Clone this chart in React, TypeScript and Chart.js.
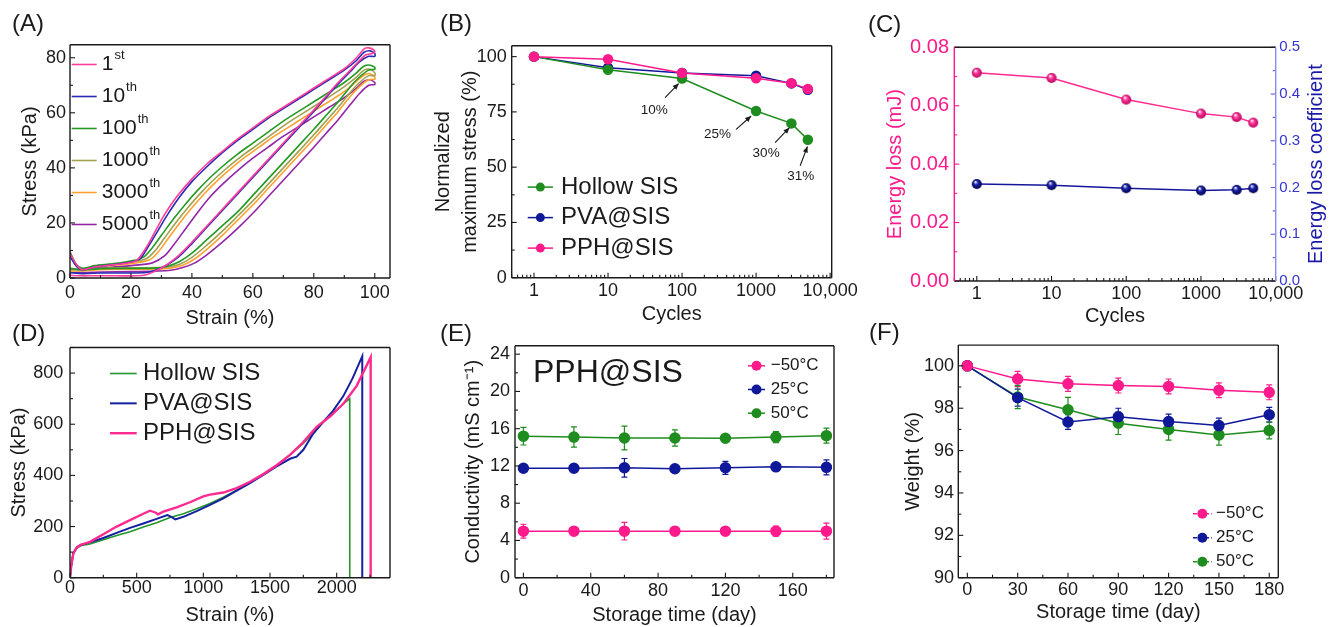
import React, { useEffect, useRef } from 'react';
import { Chart, registerables } from 'chart.js';
Chart.register(...registerables);

const FONT = '"Liberation Sans", Arial, Helvetica, sans-serif';
const INK = '#1a1a1a';

// ---------------- DATA ----------------
// (A) cyclic loading loops: [strain %, stress kPa]
const cycleNumbers = ['1', '10', '100', '1000', '3000', '5000'];
const cycleSuffixes = ['st', 'th', 'th', 'th', 'th', 'th'];
const loop1st: [number, number][] = [[0,9],[2,5],[4,3],[8,4],[14,4.8],[20,5.6],[22,6.5],[25,11],[28,17],[31,23],[35,29.5],[40,36],[45,41.5],[50,46],[55,50.5],[60,54.5],[65,58.5],[70,62],[75,65.5],[80,69],[85,72.5],[90,76],[94,80],[96.5,83.2],[98,83.6],[99.5,83],[100,82],[99,81.5],[97,81],[95,79],[92,75.5],[88,71],[84,66],[80,61],[75,55],[70,49],[65,43],[60,37],[55,31],[50,25],[45,19],[40,13],[36,8.5],[32,5],[28,2.5],[25,1.2],[22,0.8],[15,0.8],[8,0.8],[3,0.8],[0,1]];
const loop10th: [number, number][] = [[0,8],[2,4.5],[4,3],[8,4],[14,4.8],[20,5.8],[23,7],[26,12],[29,17.5],[32,23],[36,29.5],[40,35],[45,40.5],[50,45.5],[55,50],[60,54],[65,58],[70,61.5],[75,65],[80,68.5],[85,72],[90,75.5],[94,79],[96.5,82],[98.5,82.5],[100,81.5],[100,80.5],[98,80.5],[95,78.5],[92,75],[88,70.5],[84,65.5],[80,60.5],[75,54.5],[70,48.5],[65,42.5],[60,36.5],[55,30.5],[50,24.5],[45,18.5],[40,12.5],[36,8],[32,4.8],[28,2.8],[25,2],[20,1.8],[10,1.8],[4,1.6],[0,2]];
const loop100th: [number, number][] = [[0,9.5],[2,5],[4,3.5],[8,4.5],[14,5.2],[20,6.2],[24,7.5],[27,11],[30,15.5],[34,21.5],[38,27],[42,32],[46,36.5],[50,40.5],[55,45],[60,49],[65,53],[70,57],[75,60.5],[80,64],[85,67.5],[90,71],[94,74.5],[96.5,77],[98.5,77.3],[100,76.5],[100,75.8],[98,75.5],[95,73],[92,69.5],[88,64],[84,59],[80,54],[75,48],[70,42],[65,36],[60,30],[55,24],[50,19],[45,14],[40,9],[36,6],[32,4.3],[28,3.6],[20,3.5],[10,3.4],[4,3],[0,3.5]];
const loop1000th: [number, number][] = [[0,9],[2,5],[4,3.2],[8,4.3],[14,5],[20,5.8],[25,7],[28,10],[31,14.5],[35,20.5],[39,26],[43,31],[47,35.5],[51,39.5],[56,44],[61,48],[66,52],[71,56],[76,59.5],[81,63],[86,66.5],[90,69.5],[94,73],[96.5,75.5],[98.5,75.8],[100,74.5],[100,73.5],[98,73.5],[95,71],[92,67.5],[88,62],[84,57],[80,52],[75,46],[70,40],[65,34],[60,28],[55,22.5],[50,17],[45,12],[40,7.5],[36,5],[32,4],[28,3.8],[20,3.7],[10,3.5],[4,3],[0,3]];
const loop3000th: [number, number][] = [[0,8.5],[2,4.8],[4,3],[8,4],[14,4.6],[20,5.2],[26,6.5],[29,9.5],[32,14],[36,20],[40,25.5],[44,30.5],[48,35],[52,39],[57,43.5],[62,47.5],[67,51.5],[72,55],[77,58.5],[82,62],[87,65.5],[91,68.5],[94.5,72],[97,74],[98.5,74.2],[100,73],[100,72.2],[98,72],[95,69.5],[92,66],[88,60.5],[84,55.5],[80,50.5],[75,44.5],[70,38.5],[65,32.5],[60,26.5],[55,21],[50,15.5],[45,10.5],[41,7],[37,4.6],[33,3.6],[28,3.3],[20,3.2],[10,3],[4,2.6],[0,2.5]];
const loop5000th: [number, number][] = [[0,8],[2,4.5],[4,2.8],[8,3.5],[14,4],[20,4.5],[27,5.5],[31,8],[34,12],[38,18],[42,24],[46,29.5],[50,34],[55,39],[60,43.5],[65,47.5],[70,51.5],[75,55],[80,58.5],[85,62],[90,65.5],[94,69],[96.5,71.5],[98.5,72],[100,71],[100,70.3],[98,70],[95,67],[92,63],[88,57.5],[84,52.5],[80,47.5],[75,41.5],[70,35.5],[65,29.5],[60,23.5],[55,18],[50,13],[45,8.5],[41,5.5],[37,3.8],[33,2.8],[28,2.5],[20,2.3],[10,2.2],[4,2],[0,2]];
const aStrainTicks = [0, 20, 40, 60, 80, 100];
const aStressTicks = [0, 20, 40, 60, 80];

// (B) normalized maximum stress vs cycles
const cyclesB = [1, 10, 100, 1000, 3000, 5000];
const hollowB = [100, 94.1, 90.1, 75.4, 69.8, 62.4];
const pvaB = [100, 95.0, 92.6, 91.4, 87.9, 85.0];
const pphB = [100, 98.8, 92.6, 90.2, 88.0, 85.4];
const hollowLossLabels = ['10%', '25%', '30%', '31%'];
const hollowLossIndex = [2, 3, 4, 5];
const logTicks = [1, 10, 100, 1000, 10000];
const bStressTicks = [0, 25, 50, 75, 100];

// (C) energy loss and coefficient vs cycles
const cyclesC = [1, 10, 100, 1000, 3000, 5000];
const energyLoss = [0.0713, 0.0695, 0.0621, 0.0573, 0.0561, 0.0542];
const lossCoefficient = [0.2075, 0.205, 0.1985, 0.1937, 0.195, 0.1985];
const cLossTicks = [0, 0.02, 0.04, 0.06, 0.08];
const cCoefTicks = [0, 0.1, 0.2, 0.3, 0.4, 0.5];

// (D) tensile curves: [strain %, stress kPa]
const hollowTensile: [number, number][] = [[0,0],[10,50],[25,95],[50,115],[80,125],[150,132],[250,148],[350,165],[450,180],[550,198],[650,215],[750,235],[850,250],[950,270],[1050,290],[1150,315],[1250,342],[1350,372],[1450,405],[1550,440],[1650,480],[1750,525],[1850,580],[1950,635],[2050,680],[2098,700],[2098,0]];
const pvaTensile: [number, number][] = [[0,0],[10,50],[25,95],[50,118],[80,128],[150,138],[250,155],[350,175],[450,195],[550,212],[650,230],[730,245],[760,238],[790,228],[850,238],[950,260],[1050,285],[1150,310],[1250,340],[1350,370],[1450,402],[1550,435],[1650,465],[1700,473],[1750,500],[1820,560],[1900,610],[1970,650],[2050,710],[2120,780],[2192,866],[2192,0]];
const pphTensile: [number, number][] = [[0,0],[10,50],[25,95],[50,118],[80,128],[150,140],[250,170],[350,200],[450,225],[550,250],[600,262],[640,255],[660,248],[700,258],[800,275],[900,295],[1000,318],[1050,325],[1150,333],[1250,350],[1350,375],[1450,405],[1550,440],[1650,480],[1750,530],[1850,590],[1950,630],[2050,680],[2150,750],[2255,862],[2255,0]];
const dStrainTicks = [0, 500, 1000, 1500, 2000];
const dStressTicks = [0, 200, 400, 600, 800];

// (E) conductivity vs storage time
const daysE = [0, 30, 60, 90, 120, 150, 180];
const condMinus50 = [5.0, 5.0, 5.0, 5.0, 5.0, 5.0, 5.0];
const condMinus50Err = [0.74, 0.2, 0.95, 0.2, 0.2, 0.53, 0.86];
const cond25 = [11.75, 11.75, 11.8, 11.7, 11.8, 11.9, 11.85];
const cond25Err = [0.25, 0.3, 1.0, 0.2, 0.7, 0.35, 0.8];
const cond50 = [15.2, 15.1, 15.0, 15.0, 14.97, 15.1, 15.25];
const cond50Err = [0.95, 1.09, 1.28, 0.88, 0.25, 0.6, 0.8];
const eDayTicks = [0, 40, 80, 120, 160];
const eCondTicks = [0, 4, 8, 12, 16, 20, 24];

// (F) weight vs storage time
const daysF = [0, 30, 60, 90, 120, 150, 180];
const weightMinus50 = [100, 99.38, 99.15, 99.07, 99.03, 98.85, 98.75];
const weightMinus50Err = [0, 0.36, 0.35, 0.35, 0.35, 0.35, 0.35];
const weight25 = [100, 98.5, 97.35, 97.6, 97.37, 97.18, 97.69];
const weight25Err = [0, 0.4, 0.35, 0.4, 0.35, 0.35, 0.35];
const weight50 = [100, 98.53, 97.93, 97.29, 97.0, 96.74, 96.95];
const weight50Err = [0, 0.55, 0.58, 0.53, 0.51, 0.48, 0.4];
const fDayTicks = [0, 30, 60, 90, 120, 150, 180];
const fWeightTicks = [90, 92, 94, 96, 98, 100];

const tempLabels = ['\u221250\u00b0C', '25\u00b0C', '50\u00b0C'];

// ---------------- STYLES ----------------
const PINK = '#ff1a8c';
const NAVY = '#10189a';
const GREEN = '#1e8c1e';
const loopColors = ['#ff3d9a', '#2b2bb5', '#249a24', '#a2a24e', '#ffa033', '#9326a6'];

type Rect = { l: number; t: number; r: number; b: number };
interface Geo { plot: Rect; canvas: Rect; rightW?: number }

const GEO: Geo[] = [
  { plot: { l: 70, t: 42, r: 390, b: 278 }, canvas: { l: 0, t: 30, r: 402, b: 330 } },
  { plot: { l: 511.7, t: 41.7, r: 831.7, b: 277.7 }, canvas: { l: 420, t: 30, r: 862, b: 330 } },
  { plot: { l: 954.3, t: 41.7, r: 1275.7, b: 281 }, canvas: { l: 870, t: 30, r: 1329, b: 330 }, rightW: 53.3 },
  { plot: { l: 70, t: 341, r: 390, b: 577.7 }, canvas: { l: 0, t: 330, r: 402, b: 627 } },
  { plot: { l: 515, t: 341.7, r: 834, b: 577.7 }, canvas: { l: 430, t: 330, r: 862, b: 627 } },
  { plot: { l: 958.3, t: 341.7, r: 1278.3, b: 577.7 }, canvas: { l: 870, t: 330, r: 1329, b: 627 } },
];

const PANEL_LABELS = [
  { t: '(A)', x: 12, y: 25 }, { t: '(B)', x: 440, y: 25 }, { t: '(C)', x: 868, y: 25.5 },
  { t: '(D)', x: 12, y: 335 }, { t: '(E)', x: 440, y: 335 }, { t: '(F)', x: 869, y: 334 },
];

interface TickSpec { scale: string; side: 'bottom' | 'left' | 'right'; minor: 'half' | 'log' | 'none'; color?: string }
interface LegendSpec { x: number; y: number; dy: number; line: [number, number]; textX: number; size: number; marker?: boolean; dash?: number[]; supSize?: number }
interface NoteSpec { dataset: number; index: number; text: string; head: [number, number]; tail: [number, number]; label: [number, number] }
interface TextSpec { text: string; x: number; y: number; size: number; color: string; anchor: 'tl' | 'rc'; rotate?: boolean; align?: CanvasTextAlign }
interface Decor {
  frame: { top: string; right: string; bottom: string; left: string };
  ticks: TickSpec[];
  legend?: LegendSpec;
  notes?: NoteSpec[];
  texts?: TextSpec[];
  errorBars?: boolean;
}

function decorPlugin(d: Decor) {
  return {
    id: 'decor',
    beforeDatasetsDraw(chart: any) {
      if (!d.errorBars) return;
      const ctx: CanvasRenderingContext2D = chart.ctx;
      const ys = chart.scales.y;
      chart.data.datasets.forEach((ds: any, i: number) => {
        const meta = chart.getDatasetMeta(i);
        ctx.save();
        ctx.strokeStyle = ds.borderColor;
        ctx.lineWidth = 1.2;
        ds.data.forEach((p: any, j: number) => {
          const e = ds.errors ? ds.errors[j] : 0;
          if (!e) return;
          const x = meta.data[j].x;
          const y1 = ys.getPixelForValue(p.y + e);
          const y2 = ys.getPixelForValue(p.y - e);
          ctx.beginPath();
          ctx.moveTo(x, y1); ctx.lineTo(x, y2);
          ctx.moveTo(x - 3, y1); ctx.lineTo(x + 3, y1);
          ctx.moveTo(x - 3, y2); ctx.lineTo(x + 3, y2);
          ctx.stroke();
        });
        ctx.restore();
      });
    },
    afterDraw(chart: any) {
      const ctx: CanvasRenderingContext2D = chart.ctx;
      const ca = chart.chartArea;
      ctx.save();
      // inward ticks
      for (const t of d.ticks) {
        const s = chart.scales[t.scale];
        const majors: number[] = s.ticks.map((k: any) => k.value);
        const minors: number[] = [];
        if (t.minor === 'half' && majors.length > 1) {
          const step = majors[1] - majors[0];
          for (let v = majors[0] - step / 2; v <= s.max + 1e-9; v += step) if (v >= s.min - 1e-9) minors.push(v);
        } else if (t.minor === 'log') {
          for (let e = Math.floor(Math.log10(s.min)); e <= Math.ceil(Math.log10(s.max)); e++) {
            for (let k = 2; k <= 9; k++) {
              const v = k * Math.pow(10, e);
              if (v >= s.min && v <= s.max) minors.push(v);
            }
          }
        }
        ctx.strokeStyle = t.color || INK;
        ctx.lineWidth = 1.1;
        const draw = (v: number, len: number) => {
          const p = s.getPixelForValue(v);
          ctx.beginPath();
          if (t.side === 'bottom') { ctx.moveTo(p, ca.bottom); ctx.lineTo(p, ca.bottom - len); }
          else if (t.side === 'left') { ctx.moveTo(ca.left, p); ctx.lineTo(ca.left + len, p); }
          else { ctx.moveTo(ca.right, p); ctx.lineTo(ca.right - len, p); }
          ctx.stroke();
        };
        majors.forEach((v) => draw(v, 5));
        minors.forEach((v) => draw(v, 3));
      }
      // frame
      ctx.lineWidth = 1.4;
      const side = (c: string, x1: number, y1: number, x2: number, y2: number) => {
        ctx.strokeStyle = c; ctx.beginPath(); ctx.moveTo(x1, y1); ctx.lineTo(x2, y2); ctx.stroke();
      };
      side(d.frame.top, ca.left, ca.top, ca.right, ca.top);
      side(d.frame.bottom, ca.left, ca.bottom, ca.right, ca.bottom);
      side(d.frame.left, ca.left, ca.top, ca.left, ca.bottom);
      side(d.frame.right, ca.right, ca.top, ca.right, ca.bottom);
      // legend
      if (d.legend) {
        const L = d.legend;
        chart.data.datasets.forEach((ds: any, i: number) => {
          const y = ca.top + L.y + i * L.dy;
          ctx.save();
          ctx.strokeStyle = ds.borderColor;
          ctx.lineWidth = ds.borderWidth || 1.5;
          if (L.dash) ctx.setLineDash(L.dash);
          ctx.beginPath();
          ctx.moveTo(ca.left + L.line[0], y); ctx.lineTo(ca.left + L.line[1], y);
          ctx.stroke();
          ctx.restore();
          if (L.marker) {
            ctx.fillStyle = ds.pointBackgroundColor || ds.borderColor;
            ctx.beginPath();
            ctx.arc(ca.left + (L.line[0] + L.line[1]) / 2, y, ds.pointRadius || 4.5, 0, Math.PI * 2);
            ctx.fill();
          }
          ctx.fillStyle = INK;
          ctx.font = `${L.size}px ${FONT}`;
          ctx.textBaseline = 'middle';
          ctx.textAlign = 'left';
          const tx = ca.left + L.textX;
          ctx.fillText(ds.label, tx, y);
          if (ds.sup) {
            const w = ctx.measureText(ds.label).width;
            ctx.font = `${L.supSize || L.size * 0.62}px ${FONT}`;
            ctx.fillText(ds.sup, tx + w + 1, y - L.size * 0.42);
          }
        });
      }
      // annotations with arrows
      if (d.notes) {
        for (const n of d.notes) {
          const el = chart.getDatasetMeta(n.dataset).data[n.index];
          const px = el.x, py = el.y;
          const hx = px + n.head[0], hy = py + n.head[1];
          const tx = px + n.tail[0], ty = py + n.tail[1];
          ctx.strokeStyle = INK; ctx.fillStyle = INK; ctx.lineWidth = 1.1;
          ctx.beginPath(); ctx.moveTo(tx, ty); ctx.lineTo(hx, hy); ctx.stroke();
          const a = Math.atan2(hy - ty, hx - tx);
          const al = 6, aw = 2.6;
          ctx.beginPath();
          ctx.moveTo(hx, hy);
          ctx.lineTo(hx - al * Math.cos(a) + aw * Math.sin(a), hy - al * Math.sin(a) - aw * Math.cos(a));
          ctx.lineTo(hx - al * Math.cos(a) - aw * Math.sin(a), hy - al * Math.sin(a) + aw * Math.cos(a));
          ctx.closePath(); ctx.fill();
          ctx.font = `13.5px ${FONT}`;
          ctx.textAlign = 'center'; ctx.textBaseline = 'middle';
          ctx.fillText(n.text, px + n.label[0], py + n.label[1]);
        }
      }
      // free texts
      if (d.texts) {
        for (const t of d.texts) {
          const x = t.anchor === 'tl' ? ca.left + t.x : ca.right + t.x;
          const y = t.anchor === 'tl' ? ca.top + t.y : (ca.top + ca.bottom) / 2 + t.y;
          ctx.save();
          ctx.translate(x, y);
          if (t.rotate) ctx.rotate(-Math.PI / 2);
          ctx.font = `${t.size}px ${FONT}`;
          ctx.fillStyle = t.color;
          ctx.textAlign = t.align || 'left';
          ctx.textBaseline = 'middle';
          ctx.fillText(t.text, 0, 0);
          ctx.restore();
        }
      }
      ctx.restore();
    },
  };
}

function xAxis(g: Geo, o: { type?: string; min: number; max: number; ticks: number[]; title: string; titleY: number; pad: number; fmt?: (v: number) => string }) {
  return {
    type: o.type || 'linear',
    position: 'bottom',
    min: o.min,
    max: o.max,
    grid: { display: false, drawTicks: false },
    border: { display: false },
    afterBuildTicks: (s: any) => { s.ticks = o.ticks.map((v) => ({ value: v })); },
    afterFit: (s: any) => { s.height = g.canvas.b - g.plot.b; },
    ticks: {
      padding: o.pad, color: INK, font: { family: FONT, size: 18 }, maxRotation: 0, autoSkip: false,
      callback: (v: any) => (o.fmt ? o.fmt(Number(v)) : String(v)),
    },
    title: {
      display: true, text: o.title, color: INK, font: { family: FONT, size: 20, lineHeight: 1.2 },
      padding: { top: 0, bottom: g.canvas.b - o.titleY - 12 },
    },
  };
}

function yAxis(g: Geo, o: { position: 'left' | 'right'; min: number; max: number; ticks: number[]; title?: string | string[]; titleX?: number; titleColor?: string; lineHeight?: number; pad: number; color?: string; size?: number; fmt?: (v: number) => string }) {
  const lh = o.lineHeight || 1.2;
  return {
    type: 'linear',
    position: o.position,
    min: o.min,
    max: o.max,
    grid: { display: false, drawTicks: false },
    border: { display: false },
    afterBuildTicks: (s: any) => { s.ticks = o.ticks.map((v) => ({ value: v })); },
    afterFit: (s: any) => { s.width = o.position === 'left' ? g.plot.l - g.canvas.l : (g.rightW || 0); },
    ticks: {
      padding: o.pad, color: o.color || INK, font: { family: FONT, size: o.size || 18 }, autoSkip: false,
      callback: (v: any) => (o.fmt ? o.fmt(Number(v)) : String(v)),
    },
    title: o.title
      ? {
          display: true, text: o.title, color: o.titleColor || INK, font: { family: FONT, size: 20, lineHeight: lh },
          padding: { top: (o.titleX || 0) - g.canvas.l - (20 * lh) / 2, bottom: 0 },
        }
      : { display: false },
  };
}

function baseOptions(g: Geo, scales: any) {
  return {
    responsive: false,
    maintainAspectRatio: false,
    animation: false,
    events: [],
    layout: { padding: { left: 0, top: g.plot.t - g.canvas.t, right: g.canvas.r - g.plot.r - (g.rightW || 0), bottom: 0 } },
    plugins: { legend: { display: false }, tooltip: { enabled: false } },
    scales,
  };
}

function ball(color: string, dark: string, r: number) {
  const c = document.createElement('canvas');
  const s = Math.ceil(r * 2 + 2);
  c.width = s; c.height = s;
  const g = c.getContext('2d')!;
  const cx = s / 2, cy = s / 2;
  const grad = g.createRadialGradient(cx - r * 0.3, cy - r * 0.45, r * 0.05, cx, cy, r);
  grad.addColorStop(0, '#ffffff');
  grad.addColorStop(0.4, color);
  grad.addColorStop(1, dark);
  g.fillStyle = grad;
  g.beginPath(); g.arc(cx, cy, r, 0, Math.PI * 2); g.fill();
  return c;
}

const pairs = (xs: number[], ys: number[]) => xs.map((x, i) => ({ x, y: ys[i] }));
const pts = (arr: [number, number][]) => arr.map(([x, y]) => ({ x, y }));
const frameInk = { top: INK, right: INK, bottom: INK, left: INK };

function makeA(cv: HTMLCanvasElement) {
  const g = GEO[0];
  const loops = [loop1st, loop10th, loop100th, loop1000th, loop3000th, loop5000th];
  return new Chart(cv, {
    type: 'scatter',
    data: {
      datasets: loops.map((l, i) => ({
        label: cycleNumbers[i], sup: cycleSuffixes[i], data: pts(l), showLine: true, pointRadius: 0,
        borderColor: loopColors[i], backgroundColor: loopColors[i], borderWidth: 1.6, tension: 0.3,
      })) as any,
    },
    options: baseOptions(g, {
      x: xAxis(g, { min: 0, max: 105, ticks: aStrainTicks, title: 'Strain (%)', titleY: 318, pad: 4 }),
      y: yAxis(g, { position: 'left', min: 0, max: 84.7, ticks: aStressTicks, title: 'Stress (kPa)', titleX: 30, pad: 4 }),
    }) as any,
    plugins: [decorPlugin({
      frame: frameInk,
      ticks: [{ scale: 'x', side: 'bottom', minor: 'half' }, { scale: 'y', side: 'left', minor: 'half' }],
      legend: { x: 0, y: 19.7, dy: 32, line: [1.7, 26.7], textX: 31.7, size: 21, supSize: 13 },
    })],
  });
}

function makeB(cv: HTMLCanvasElement) {
  const g = GEO[1];
  const mk = (label: string, ys: number[], c: string) => ({
    label, data: pairs(cyclesB, ys), borderColor: c, backgroundColor: c, pointBackgroundColor: c,
    pointBorderColor: c, pointRadius: 4.5, borderWidth: 1.5,
  });
  return new Chart(cv, {
    type: 'line',
    data: { datasets: [mk('Hollow SIS', hollowB, GREEN), mk('PVA@SIS', pvaB, NAVY), { ...mk('PPH@SIS', pphB, PINK), order: -1 }] as any },
    options: baseOptions(g, {
      x: xAxis(g, { type: 'logarithmic', min: 0.5, max: 10500, ticks: logTicks, title: 'Cycles', titleY: 314, pad: 3, fmt: (v) => (v === 10000 ? '10,000' : String(v)) }),
      y: yAxis(g, { position: 'left', min: 0, max: 104.9, ticks: bStressTicks, title: ['Normalized', 'maximum stress (%)'], titleX: 443.3, lineHeight: 1.38, pad: 5 }),
    }) as any,
    plugins: [decorPlugin({
      frame: frameInk,
      ticks: [{ scale: 'x', side: 'bottom', minor: 'log' }, { scale: 'y', side: 'left', minor: 'half' }],
      legend: { x: 0, y: 141.3, dy: 30.5, line: [16, 41.3], textX: 49.3, size: 24, marker: true },
      notes: hollowLossIndex.map((idx, k) => ({
        dataset: 0, index: idx, text: hollowLossLabels[k],
        head: ([[-3.4, 5], [-5, 5], [-2, 4.3], [-0.4, 6.7]] as [number, number][])[k],
        tail: ([[-17, 19], [-20, 18.4], [-16.3, 19.3], [-7.7, 26]] as [number, number][])[k],
        label: ([[-27.7, 32], [-38.7, 23.7], [-25.3, 30.3], [-7, 36.7]] as [number, number][])[k],
      })),
    })],
  });
}

function makeC(cv: HTMLCanvasElement) {
  const g = GEO[2];
  const pinkBall = ball('#ff3a9a', '#b8005c', 5);
  const navyBall = ball('#1c24b0', '#000048', 5);
  return new Chart(cv, {
    type: 'line',
    data: {
      datasets: [
        { label: 'Energy loss', data: pairs(cyclesC, energyLoss), yAxisID: 'y', borderColor: '#ff2a90', borderWidth: 1.5, pointStyle: pinkBall, pointRadius: 5 },
        { label: 'Energy loss coefficient', data: pairs(cyclesC, lossCoefficient), yAxisID: 'y2', borderColor: '#16169c', borderWidth: 1.5, pointStyle: navyBall, pointRadius: 5 },
      ] as any,
    },
    options: baseOptions(g, {
      x: xAxis(g, { type: 'logarithmic', min: 0.5, max: 10000, ticks: logTicks, title: 'Cycles', titleY: 316.7, pad: 2.5, fmt: (v) => (v === 10000 ? '10,000' : String(v)) }),
      y: yAxis(g, { position: 'left', min: 0, max: 0.08, ticks: cLossTicks, title: 'Energy loss (mJ)', titleX: 895, titleColor: '#ff1a8c', pad: 5.3, color: '#ff1a8c', size: 20, fmt: (v) => v.toFixed(2) }),
      y2: yAxis(g, { position: 'right', min: 0, max: 0.5, ticks: cCoefTicks, pad: 3.6, color: '#3434d0', size: 15, fmt: (v) => v.toFixed(1) }),
    }) as any,
    plugins: [decorPlugin({
      frame: { top: INK, bottom: INK, left: '#ff1a8c', right: '#8a8af0' },
      ticks: [
        { scale: 'x', side: 'bottom', minor: 'log' },
        { scale: 'y', side: 'left', minor: 'half', color: '#ff1a8c' },
        { scale: 'y2', side: 'right', minor: 'half', color: '#5a5ad8' },
      ],
      texts: [{ text: 'Energy loss coefficient', x: 41, y: 0, size: 20, color: '#1a1aa8', anchor: 'rc', rotate: true, align: 'center' }],
    })],
  });
}

function makeD(cv: HTMLCanvasElement) {
  const g = GEO[3];
  return new Chart(cv, {
    type: 'scatter',
    data: {
      datasets: [
        { label: 'Hollow SIS', data: pts(hollowTensile), showLine: true, pointRadius: 0, borderColor: '#23952a', borderWidth: 1.6, order: 2 },
        { label: 'PVA@SIS', data: pts(pvaTensile), showLine: true, pointRadius: 0, borderColor: '#1420a0', borderWidth: 2, order: 1 },
        { label: 'PPH@SIS', data: pts(pphTensile), showLine: true, pointRadius: 0, borderColor: '#ff2a90', borderWidth: 2.4, order: 0 },
      ] as any,
    },
    options: baseOptions(g, {
      x: xAxis(g, { min: 0, max: 2400, ticks: dStrainTicks, title: 'Strain (%)', titleY: 615, pad: 0 }),
      y: yAxis(g, { position: 'left', min: 0, max: 900, ticks: dStressTicks, title: 'Stress (kPa)', titleX: 19, pad: 6.7 }),
    }) as any,
    plugins: [decorPlugin({
      frame: frameInk,
      ticks: [{ scale: 'x', side: 'bottom', minor: 'half' }, { scale: 'y', side: 'left', minor: 'half' }],
      legend: { x: 0, y: 26, dy: 29.85, line: [40, 66.7], textX: 73, size: 24 },
    })],
  });
}

function tempDatasets(xs: number[], series: number[][], errs: number[][]) {
  const cols = [PINK, NAVY, GREEN];
  return series.map((ys, i) => ({
    label: tempLabels[i], data: pairs(xs, ys), errors: errs[i], borderColor: cols[i], backgroundColor: cols[i],
    pointBackgroundColor: cols[i], pointBorderColor: cols[i], pointRadius: 5, borderWidth: 1.5,
  }));
}

function makeE(cv: HTMLCanvasElement) {
  const g = GEO[4];
  return new Chart(cv, {
    type: 'line',
    data: { datasets: tempDatasets(daysE, [condMinus50, cond25, cond50], [condMinus50Err, cond25Err, cond50Err]) as any },
    options: baseOptions(g, {
      x: xAxis(g, { min: -5, max: 184.5, ticks: eDayTicks, title: 'Storage time (day)', titleY: 615, pad: 2.5 }),
      y: yAxis(g, { position: 'left', min: 0, max: 24.9, ticks: eCondTicks, title: 'Conductivity (mS cm\u207b\u00b9)', titleX: 473.3, pad: 5 }),
    }) as any,
    plugins: [decorPlugin({
      frame: frameInk,
      errorBars: true,
      ticks: [{ scale: 'x', side: 'bottom', minor: 'half' }, { scale: 'y', side: 'left', minor: 'half' }],
      legend: { x: 0, y: 20, dy: 23.7, line: [233, 250], textX: 255.7, size: 17, marker: true },
      texts: [{ text: 'PPH@SIS', x: 18, y: 27.3, size: 32, color: INK, anchor: 'tl' }],
    })],
  });
}

function makeF(cv: HTMLCanvasElement) {
  const g = GEO[5];
  return new Chart(cv, {
    type: 'line',
    data: { datasets: tempDatasets(daysF, [weightMinus50, weight25, weight50], [weightMinus50Err, weight25Err, weight50Err]) as any },
    options: baseOptions(g, {
      x: xAxis(g, { min: -5.4, max: 185.4, ticks: fDayTicks, title: 'Storage time (day)', titleY: 612.7, pad: 1.5 }),
      y: yAxis(g, { position: 'left', min: 90, max: 100.98, ticks: fWeightTicks, title: 'Weight (%)', titleX: 913.3, pad: 4.3 }),
    }) as any,
    plugins: [decorPlugin({
      frame: frameInk,
      errorBars: true,
      ticks: [{ scale: 'x', side: 'bottom', minor: 'half' }, { scale: 'y', side: 'left', minor: 'half' }],
      legend: { x: 0, y: 168.6, dy: 24, line: [234.7, 253.4], textX: 257.7, size: 17, marker: true, dash: [4, 2] },
    })],
  });
}

export default function App() {
  const r0 = useRef<HTMLCanvasElement>(null);
  const r1 = useRef<HTMLCanvasElement>(null);
  const r2 = useRef<HTMLCanvasElement>(null);
  const r3 = useRef<HTMLCanvasElement>(null);
  const r4 = useRef<HTMLCanvasElement>(null);
  const r5 = useRef<HTMLCanvasElement>(null);
  const refs = [r0, r1, r2, r3, r4, r5];

  useEffect(() => {
    const makers = [makeA, makeB, makeC, makeD, makeE, makeF];
    const charts = makers.map((m, i) => m(refs[i].current as HTMLCanvasElement));
    return () => charts.forEach((c) => c.destroy());
  }, []);

  return (
    <div style={{ position: 'absolute', left: 0, top: 0, width: 1329, height: 627, background: '#ffffff', overflow: 'hidden' }}>
      {GEO.map((g, i) => (
        <canvas
          key={i}
          ref={refs[i]}
          width={g.canvas.r - g.canvas.l}
          height={g.canvas.b - g.canvas.t}
          style={{ position: 'absolute', left: g.canvas.l, top: g.canvas.t, width: g.canvas.r - g.canvas.l, height: g.canvas.b - g.canvas.t }}
        />
      ))}
      {PANEL_LABELS.map((p) => (
        <div key={p.t} style={{ position: 'absolute', left: p.x, top: p.y - 14, fontFamily: FONT, fontSize: 24, lineHeight: '24px', color: INK, whiteSpace: 'nowrap' }}>
          {p.t}
        </div>
      ))}
    </div>
  );
}
